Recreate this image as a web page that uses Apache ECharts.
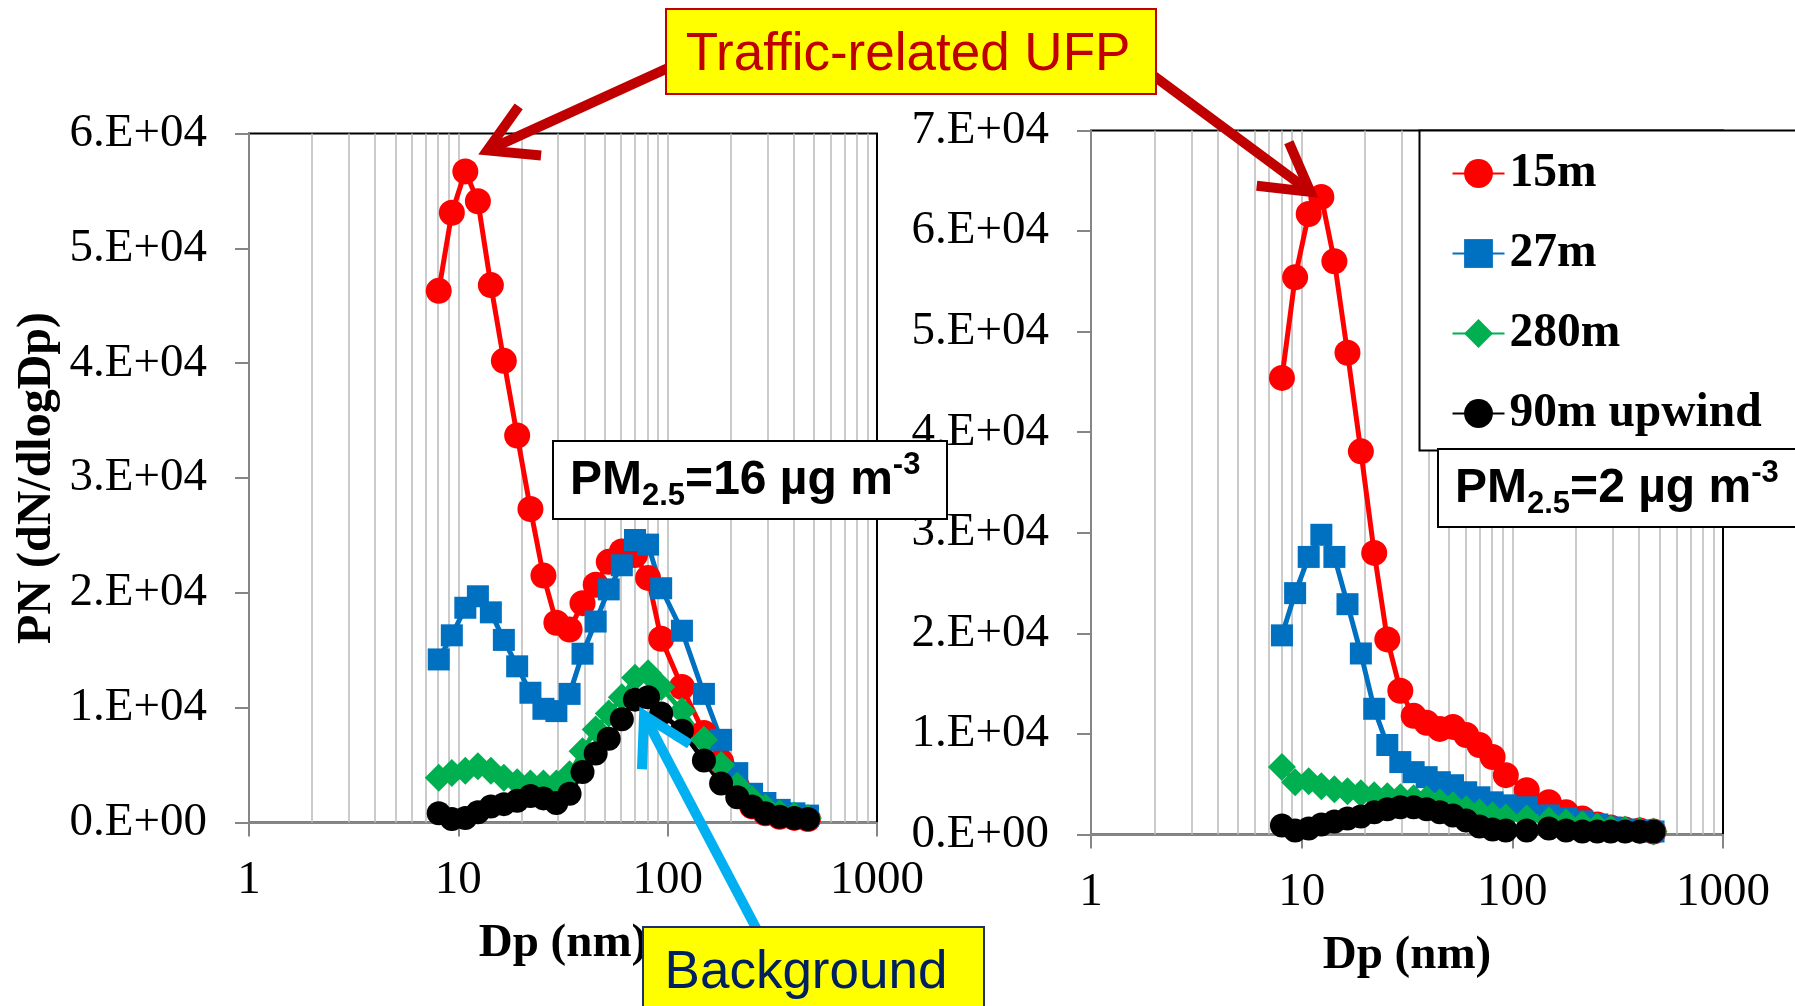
<!DOCTYPE html>
<html>
<head>
<meta charset="utf-8">
<script src="https://cdn.jsdelivr.net/npm/echarts@6/dist/echarts.min.js"></script>
<style>
  html, body { margin: 0; padding: 0; background: #ffffff; }
  #chart { width: 1795px; height: 1006px; }
</style>
</head>
<body>
<div id="chart"></div>
<script>
// Particle diameter bins (nm), shared by every size distribution
const DP = [8.06, 9.31, 10.8, 12.4, 14.3, 16.5, 19.1, 22.1, 25.5, 29.4, 34.0, 39.2, 45.3, 52.3,
            60.4, 69.8, 80.6, 93.1, 117, 149, 180, 215, 253, 293, 343, 403, 468];

// Left panel (PM2.5 = 16 µg m-3): PN (dN/dlogDp) per bin
const LEFT_15M  = [46300, 53100, 56700, 54100, 46800, 40200, 33700, 27300, 21500, 17400, 16800, 19100, 20700, 22700,
                   23600, 23300, 21300, 16000, 11800, 7800, 5300, 3100, 1400, 800, 500, 400, 300];
const LEFT_27M  = [14200, 16300, 18700, 19700, 18300, 15900, 13600, 11300, 9900, 9700, 11200, 14700, 17500, 20300,
                   22400, 24600, 24200, 20400, 16700, 11200, 7200, 4300, 2500, 1700, 1100, 800, 600];
const LEFT_280M = [3900, 4300, 4500, 4900, 4500, 3900, 3500, 3400, 3400, 3400, 4200, 6200, 8100, 9500,
                   10900, 12600, 13000, 11800, 9700, 7200, 5000, 3200, 2000, 1300, 800, 600, 400];
const LEFT_90M  = [800, 300, 400, 900, 1400, 1600, 1900, 2300, 2100, 1700, 2500, 4400, 6000, 7300,
                   9000, 10700, 10900, 9500, 8000, 5400, 3400, 2200, 1400, 800, 500, 400, 300];

// Right panel (PM2.5 = 2 µg m-3)
const RIGHT_15M  = [45400, 55400, 61700, 63400, 57000, 47900, 38100, 28000, 19400, 14300, 11800, 11100, 10500, 10700,
                    9900, 8900, 7700, 5900, 4400, 3200, 2200, 1600, 1000, 700, 500, 400, 300];
const RIGHT_27M  = [19800, 24000, 27600, 29800, 27600, 22900, 18000, 12500, 8900, 7200, 6200, 5700, 5200, 4900,
                    4200, 3700, 3200, 2900, 2700, 1900, 1600, 1300, 1000, 700, 500, 400, 300];
const RIGHT_280M = [6700, 5200, 5300, 4800, 4500, 4300, 4100, 3900, 3800, 3700, 3600, 3500, 3200, 2900,
                    2500, 2200, 1900, 1700, 1600, 1400, 1200, 1000, 800, 600, 500, 400, 300];
const RIGHT_90M  = [900, 400, 600, 1000, 1300, 1600, 1800, 2200, 2500, 2700, 2700, 2500, 2200, 1900,
                    1400, 800, 500, 400, 400, 600, 400, 300, 300, 300, 300, 300, 300];

const SERIES_NAMES = ['15m', '27m', '280m', '90m upwind'];
const X_TICK_LABELS = ['1', '10', '100', '1000'];
const Y_TICK_LABELS = ['0.E+00', '1.E+04', '2.E+04', '3.E+04', '4.E+04', '5.E+04', '6.E+04', '7.E+04'];
// Vertical grid lines of the log axis (2..9 in every decade)
const X_GRID_LINES = [2, 3, 4, 5, 6, 7, 8, 9, 10, 20, 30, 40, 50, 60, 70, 80, 90, 100,
                      200, 300, 400, 500, 600, 700, 800, 900];

const SERIF = 'Liberation Serif';
const SANS = 'Liberation Sans';
const AXIS_GREY = '#868686';

const STYLES = [
  { color: '#FF0000', symbol: 'circle',  size: 26 },
  { color: '#0070C0', symbol: 'rect',    size: 22 },
  { color: '#00B050', symbol: 'diamond', size: 28 },
  { color: '#000000', symbol: 'circle',  size: 24 }
];

const chart = echarts.init(document.getElementById('chart'), null, { renderer: 'canvas', width: 1795, height: 1006 });

function xAxis(gridIndex) {
  return {
    type: 'log', logBase: 10, gridIndex, min: 1, max: 1000,
    name: 'Dp (nm)', nameLocation: 'middle', nameGap: 98,
    nameTextStyle: { fontFamily: SERIF, fontWeight: 'bold', fontSize: 47, color: '#000' },
    axisLine: { show: true, onZero: false, lineStyle: { color: AXIS_GREY, width: 2 } },
    axisTick: { show: true, inside: false, length: 14, lineStyle: { color: AXIS_GREY, width: 2 } },
    axisLabel: {
      fontFamily: SERIF, fontSize: 47, color: '#000', margin: 35,
      formatter: v => X_TICK_LABELS[Math.round(Math.log10(v))]
    },
    splitLine: { show: false }, minorTick: { show: false }, minorSplitLine: { show: false }
  };
}

function yAxis(gridIndex, max, title) {
  return {
    type: 'value', gridIndex, min: 0, max, interval: 10000,
    name: title, nameLocation: 'middle', nameGap: 187, nameRotate: 90,
    nameTextStyle: { fontFamily: SERIF, fontWeight: 'bold', fontSize: 48, color: '#000' },
    axisLine: { show: true, onZero: false, lineStyle: { color: AXIS_GREY, width: 2 } },
    axisTick: { show: true, inside: false, length: 14, lineStyle: { color: AXIS_GREY, width: 2 } },
    axisLabel: {
      fontFamily: SERIF, fontSize: 47, color: '#000', margin: 42,
      formatter: v => Y_TICK_LABELS[Math.round(v / 10000)]
    },
    splitLine: { show: false }
  };
}

function makeSeries(idx, values, gridIndex) {
  const st = STYLES[idx];
  const s = {
    type: 'line', name: SERIES_NAMES[idx],
    xAxisIndex: gridIndex, yAxisIndex: gridIndex,
    data: DP.map((d, i) => [d, values[i]]),
    symbol: st.symbol, symbolSize: st.size, showAllSymbol: true,
    lineStyle: { color: st.color, width: 5 },
    itemStyle: { color: st.color },
    emphasis: { disabled: true }, silent: true, z: 2
  };
  if (idx === 0) {
    s.markLine = {
      silent: true, symbol: 'none', z: 1, animation: false,
      label: { show: false },
      lineStyle: { color: '#BEBEBE', width: 1.6, type: 'solid' },
      emphasis: { disabled: true },
      data: X_GRID_LINES.map(v => ({ xAxis: v }))
    };
  }
  return s;
}

chart.setOption({
  animation: false,
  backgroundColor: '#ffffff',
  textStyle: { fontFamily: SERIF },
  grid: [
    { left: 249, top: 133.5, width: 628, height: 689, show: true, borderColor: '#000', borderWidth: 2, backgroundColor: 'transparent' },
    { left: 1091, top: 130.5, width: 632, height: 704, show: true, borderColor: '#000', borderWidth: 2, backgroundColor: 'transparent' }
  ],
  xAxis: [xAxis(0), xAxis(1)],
  yAxis: [yAxis(0, 60000, 'PN (dN/dlogDp)'), yAxis(1, 70000, '')],
  legend: {
    orient: 'vertical', left: 1419.5, top: 130.5,
    data: SERIES_NAMES, selectedMode: false,
    backgroundColor: '#ffffff', borderColor: '#000', borderWidth: 2,
    padding: [19, 260, 13, 32], itemGap: 32, itemWidth: 52, itemHeight: 36,
    textStyle: { fontFamily: SERIF, fontWeight: 'bold', fontSize: 47.5, lineHeight: 46, color: '#000' },
    z: 20
  },
  series: [
    makeSeries(0, LEFT_15M, 0), makeSeries(1, LEFT_27M, 0), makeSeries(2, LEFT_280M, 0), makeSeries(3, LEFT_90M, 0),
    makeSeries(0, RIGHT_15M, 1), makeSeries(1, RIGHT_27M, 1), makeSeries(2, RIGHT_280M, 1), makeSeries(3, RIGHT_90M, 1)
  ]
});

// Annotation arrows point at the peaks, located through the chart's own scales
function peakPixel(gridIndex, values) {
  let k = 0;
  values.forEach((v, i) => { if (v > values[k]) k = i; });
  return chart.convertToPixel({ gridIndex }, [DP[k], values[k]]);
}

function arrow(start, tip, color, width, z) {
  const a = Math.atan2(start[1] - tip[1], start[0] - tip[0]);
  const h = Math.PI / 6, len = 54;
  const arm1 = [tip[0] + len * Math.cos(a + h), tip[1] + len * Math.sin(a + h)];
  const arm2 = [tip[0] + len * Math.cos(a - h), tip[1] + len * Math.sin(a - h)];
  const shaftEnd = [tip[0] + 6 * Math.cos(a), tip[1] + 6 * Math.sin(a)];
  return [
    { type: 'line', z, silent: true,
      shape: { x1: start[0], y1: start[1], x2: shaftEnd[0], y2: shaftEnd[1] },
      style: { stroke: color, lineWidth: width } },
    { type: 'polyline', z, silent: true,
      shape: { points: [arm1, tip, arm2] },
      style: { stroke: color, lineWidth: width, fill: null, lineJoin: 'miter' } }
  ];
}

const leftPeak = peakPixel(0, LEFT_15M);
const rightPeak = peakPixel(1, RIGHT_15M);
const bgPeak = peakPixel(0, LEFT_90M);

const tipA = [leftPeak[0] + 22, leftPeak[1] - 21];
const tipB = [rightPeak[0] - 11, rightPeak[1] - 5];
const tipC = [bgPeak[0] - 4, bgPeak[1] + 18];

const PM_RICH = {
  m: { fontFamily: SANS, fontWeight: 'bold', fontSize: 48, lineHeight: 62, fill: '#000', verticalAlign: 'middle' },
  s: { fontFamily: SANS, fontWeight: 'bold', fontSize: 31, lineHeight: 30, fill: '#000', verticalAlign: 'bottom' },
  p: { fontFamily: SANS, fontWeight: 'bold', fontSize: 31, lineHeight: 40, fill: '#000', verticalAlign: 'top' }
};

const graphics = [].concat(
  arrow([690, 58], tipA, '#C00000', 10, 40),
  arrow([1135, 62], tipB, '#C00000', 10, 40),
  arrow([765, 945], tipC, '#00B0F0', 10, 40),
  [
    // PM2.5 boxes
    { type: 'rect', z: 30, silent: true, shape: { x: 553, y: 441, width: 394, height: 78 },
      style: { fill: '#ffffff', stroke: '#000', lineWidth: 2 } },
    { type: 'text', z: 31, silent: true,
      style: { x: 570, y: 481, text: '{m|PM}{s|2.5}{m|=16 µg m}{p|-3}', rich: PM_RICH,
               align: 'left', verticalAlign: 'middle' } },
    { type: 'rect', z: 30, silent: true, shape: { x: 1438, y: 449, width: 420, height: 78 },
      style: { fill: '#ffffff', stroke: '#000', lineWidth: 2 } },
    { type: 'text', z: 31, silent: true,
      style: { x: 1455, y: 489, text: '{m|PM}{s|2.5}{m|=2 µg m}{p|-3}', rich: PM_RICH,
               align: 'left', verticalAlign: 'middle' } },
    // Callout labels
    { type: 'rect', z: 50, silent: true, shape: { x: 666, y: 9, width: 490, height: 85 },
      style: { fill: '#FFFF00', stroke: '#C00000', lineWidth: 2 } },
    { type: 'text', z: 51, silent: true,
      style: { x: 908, y: 55.5, text: 'Traffic-related UFP', fill: '#C00000',
               fontFamily: SANS, fontSize: 53, align: 'center', verticalAlign: 'middle' } },
    { type: 'rect', z: 50, silent: true, shape: { x: 643, y: 927, width: 341, height: 110 },
      style: { fill: '#FFFF00', stroke: '#1F2F6B', lineWidth: 2 } },
    { type: 'text', z: 51, silent: true,
      style: { x: 806, y: 973, text: 'Background', fill: '#002060',
               fontFamily: SANS, fontSize: 53, align: 'center', verticalAlign: 'middle' } }
  ]
);

chart.setOption({ graphic: graphics });
</script>
</body>
</html>
